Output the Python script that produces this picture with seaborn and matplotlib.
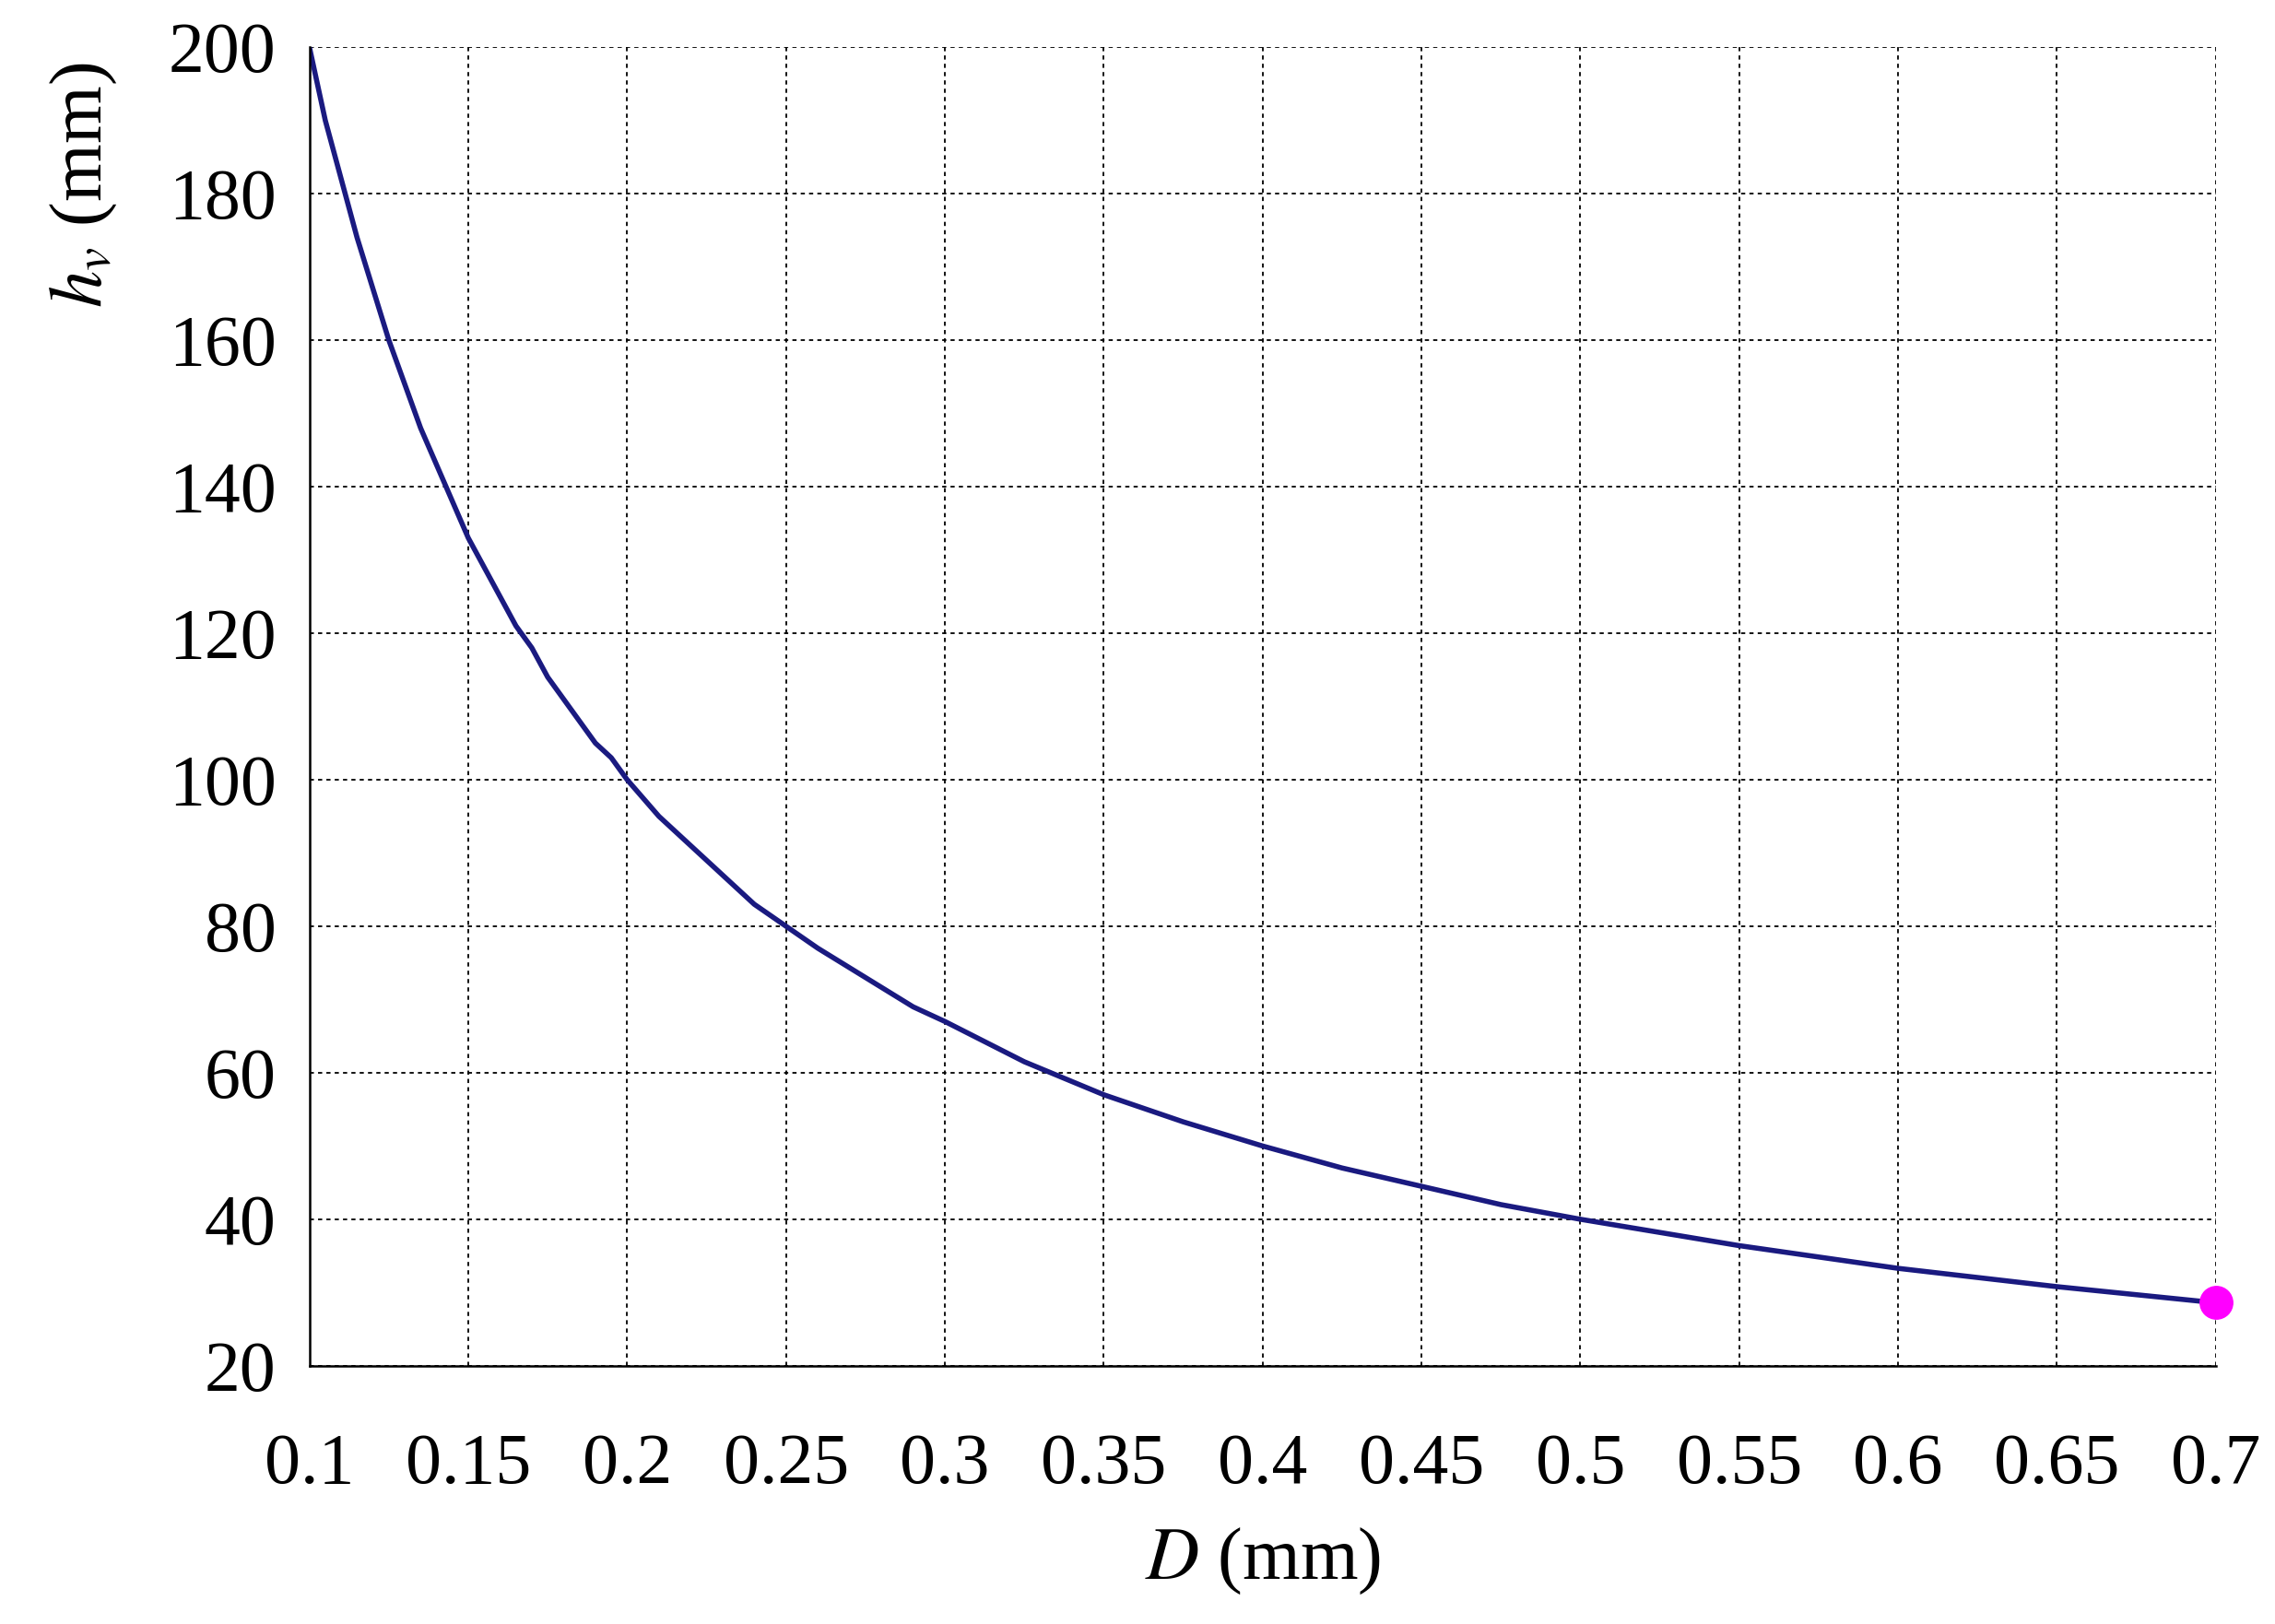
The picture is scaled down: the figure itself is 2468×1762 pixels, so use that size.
import matplotlib
matplotlib.use("Agg")
import matplotlib.pyplot as plt
import seaborn as sns
import pandas as pd

D_mm = [0.10, 0.105, 0.11, 0.115, 0.12, 0.125, 0.13, 0.135, 0.14, 0.145, 0.15, 0.155, 0.16, 0.165,
        0.17, 0.175, 0.18, 0.185, 0.19, 0.195, 0.20, 0.21, 0.22, 0.23, 0.24, 0.25, 0.26, 0.275,
        0.29, 0.30, 0.325, 0.35, 0.375, 0.40, 0.425, 0.45, 0.475, 0.50, 0.55, 0.60, 0.65, 0.70]
hv_mm = [200, 190, 182, 174, 167, 160, 154, 148, 143, 138, 133, 129, 125, 121,
         118, 114, 111, 108, 105, 103, 100, 95, 91, 87, 83, 80, 77, 73,
         69, 67, 61.5, 57, 53.3, 50, 47, 44.5, 42, 40, 36.4, 33.3, 30.8, 28.6]
end_D = [0.70]
end_h = [28.6]
xticks = [0.1, 0.15, 0.2, 0.25, 0.3, 0.35, 0.4, 0.45, 0.5, 0.55, 0.6, 0.65, 0.7]
xticklabels = ["0.1", "0.15", "0.2", "0.25", "0.3", "0.35", "0.4", "0.45", "0.5", "0.55", "0.6", "0.65", "0.7"]
yticks = [20, 40, 60, 80, 100, 120, 140, 160, 180, 200]

sns.set_style("white")
plt.rcParams['font.family'] = ['Liberation Serif', 'DejaVu Serif']
plt.rcParams['mathtext.fontset'] = 'stix'

fig = plt.figure(figsize=(24.68, 17.62), dpi=100)
ax = fig.add_axes([0.136, 0.159, 0.838, 0.812])
df = pd.DataFrame({"D": D_mm, "h": hv_mm})
sns.lineplot(data=df, x="D", y="h", ax=ax, color="#1a1a80", linewidth=4)
ax.scatter(end_D, end_h, s=650, color="#ff00ff", zorder=5, clip_on=False)

ax.set_xlim(0.1, 0.7)
ax.set_ylim(20, 200)
ax.set_xticks(xticks)
ax.set_xticklabels(xticklabels)
ax.set_yticks(yticks)
ax.grid(True, color="black", linestyle=(0, (2.5, 2.5)), linewidth=1.3)
for s in ax.spines.values():
    s.set_visible(False)
for k in ('left', 'bottom'):
    ax.spines[k].set_visible(True)
    ax.spines[k].set_linewidth(1.8)
    ax.spines[k].set_color("black")
ax.tick_params(axis='both', labelsize=56, labelcolor='black', direction='out', length=12, width=1.5, color='black', pad=14)
ax.tick_params(axis='x', pad=40)
ax.set_xlabel(r"$D$ (mm)", fontsize=58, labelpad=22, color='black')
ax.set_ylabel(r"$h_v$ (mm)", fontsize=58, color='black')
ax.yaxis.set_label_coords(-0.1, 0.895)
fig.savefig("out.png", dpi=100)
